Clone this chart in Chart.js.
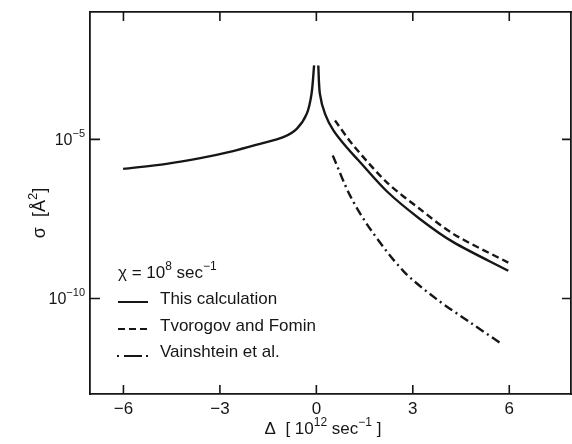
<!DOCTYPE html>
<html>
<head>
<meta charset="utf-8">
<script src="https://cdn.jsdelivr.net/npm/chart.js@4.4.1/dist/chart.umd.min.js"></script>
<style>
  html, body { margin: 0; padding: 0; background: #fff; }
  #wrap { width: 572px; height: 444px; }
</style>
</head>
<body>
<div id="wrap"><canvas id="sigmaChart"></canvas></div>
<script>
// Values (Delta in 10^12 sec^-1, sigma in A^2)
const xTicks = [-6, -3, 0, 3, 6];
const yTicks = [1e-5, 1e-10];

// This calculation, left branch (up to the cusp at 0)
const calcLeftX = [-6.01, -4.66, -3.61, -2.59, -1.75, -1.03, -0.61, -0.30, -0.15, -0.07];
const calcLeftY = [1.18e-6, 1.70e-6, 2.57e-6, 4.27e-6, 7.24e-6, 1.17e-5, 2.14e-5, 6.31e-5, 2.69e-4, 2.09e-3];

// This calculation, right branch
const calcRightX = [0.06, 0.11, 0.27, 0.53, 0.94, 1.30, 2.19, 3.22, 4.26, 5.97];
const calcRightY = [2.09e-3, 2.69e-4, 6.31e-5, 1.91e-5, 5.62e-6, 2.24e-6, 2.34e-7, 3.16e-8, 5.89e-9, 7.41e-10];

// Tvorogov and Fomin
const tvorogovX = [0.58, 1.15, 2.19, 3.22, 4.26, 5.98];
const tvorogovY = [3.89e-5, 6.46e-6, 4.47e-7, 6.46e-8, 1.07e-8, 1.32e-9];

// Vainshtein et al.
const vainshteinX = [0.51, 1.05, 1.67, 2.70, 3.74, 4.78, 5.77];
const vainshteinY = [3.09e-6, 1.70e-7, 1.55e-8, 7.4e-10, 9.55e-11, 1.78e-11, 3.72e-12];

const ink = '#161616';
const font = '"Liberation Sans", Arial, sans-serif';

function pts(xs, ys) {
  return xs.map((x, i) => ({ x: x, y: ys[i] }));
}

function line(data, dash) {
  return {
    data: data,
    borderColor: ink,
    borderWidth: 2.4,
    borderDash: dash,
    pointRadius: 0,
    fill: false,
    tension: 0.3
  };
}

// draws [text, isSuperscript] pieces one after another
function drawPieces(ctx, pieces, x, y, size, align) {
  const supSize = Math.round(size * 0.7);
  const widths = pieces.map(p => {
    ctx.font = (p[1] ? supSize : size) + 'px ' + font;
    return ctx.measureText(p[0]).width;
  });
  const total = widths.reduce((a, b) => a + b, 0);
  let cx = align === 'right' ? x - total : align === 'center' ? x - total / 2 : x;
  ctx.textAlign = 'left';
  ctx.textBaseline = 'middle';
  pieces.forEach((p, i) => {
    ctx.font = (p[1] ? supSize : size) + 'px ' + font;
    ctx.fillText(p[0], cx, p[1] ? y - size * 0.38 : y);
    cx += widths[i];
  });
}

const frameDecor = {
  id: 'frameDecor',
  afterDraw(chart) {
    const { ctx, chartArea: a, scales } = chart;
    ctx.save();
    ctx.strokeStyle = ink;
    ctx.fillStyle = ink;
    ctx.lineWidth = 1.6;

    // inward tick marks on all four sides
    ctx.beginPath();
    xTicks.forEach(v => {
      const px = scales.x.getPixelForValue(v);
      ctx.moveTo(px, a.bottom); ctx.lineTo(px, a.bottom - 9);
      ctx.moveTo(px, a.top); ctx.lineTo(px, a.top + 9);
    });
    yTicks.forEach(v => {
      const py = scales.y.getPixelForValue(v);
      ctx.moveTo(a.left, py); ctx.lineTo(a.left + 10, py);
      ctx.moveTo(a.right, py); ctx.lineTo(a.right - 9, py);
    });
    ctx.stroke();

    // y tick labels with exponents
    yTicks.forEach(v => {
      const py = scales.y.getPixelForValue(v);
      const e = Math.round(Math.log10(v));
      drawPieces(ctx, [['10', false], ['\u2212' + (-e), true]], a.left - 5, py + 1, 16, 'right');
    });

    // y axis title, rotated
    ctx.save();
    ctx.translate(40, 213);
    ctx.rotate(-Math.PI / 2);
    drawPieces(ctx, [['\u03c3  [\u00c5', false], ['2', true], [']', false]], 0, 0, 18, 'center');
    ctx.restore();

    // x axis title
    drawPieces(ctx, [['\u0394  [ 10', false], ['12', true], [' sec', false], ['\u22121', true], [' ]', false]],
      323, 429, 17, 'center');

    // legend block
    drawPieces(ctx, [['\u03c7 = 10', false], ['8', true], [' sec', false], ['\u22121', true]], 118, 273, 17, 'left');
    const rows = [
      { y: 299, label: 'This calculation' },
      { y: 326, label: 'Tvorogov and Fomin' },
      { y: 352, label: 'Vainshtein et al.' }
    ];
    ctx.lineWidth = 2;
    // solid sample
    ctx.setLineDash([]);
    ctx.beginPath(); ctx.moveTo(118, rows[0].y + 3); ctx.lineTo(148, rows[0].y + 3); ctx.stroke();
    // dashed sample
    ctx.setLineDash([7, 4]);
    ctx.beginPath(); ctx.moveTo(118, rows[1].y + 3); ctx.lineTo(148, rows[1].y + 3); ctx.stroke();
    // dot - dash - dot sample
    ctx.setLineDash([]);
    ctx.beginPath();
    ctx.moveTo(117, rows[2].y + 4); ctx.lineTo(119, rows[2].y + 4);
    ctx.moveTo(124, rows[2].y + 4); ctx.lineTo(142, rows[2].y + 4);
    ctx.moveTo(146, rows[2].y + 4); ctx.lineTo(148, rows[2].y + 4);
    ctx.stroke();
    rows.forEach(r => drawPieces(ctx, [[r.label, false]], 160, r.y, 17, 'left'));

    ctx.restore();
  }
};

function fixTicks(list) {
  return scale => { scale.ticks = list.map(v => ({ value: v })); };
}

const axisBorder = { display: true, color: ink, width: 1.8 };
const noGrid = { display: false, drawTicks: false };

new Chart(document.getElementById('sigmaChart'), {
  type: 'line',
  data: {
    datasets: [
      line(pts(calcLeftX, calcLeftY), []),
      line(pts(calcRightX, calcRightY), []),
      line(pts(tvorogovX, tvorogovY), [7, 4]),
      line(pts(vainshteinX, vainshteinY), [9, 4, 2, 4])
    ]
  },
  options: {
    responsive: true,
    maintainAspectRatio: false,
    devicePixelRatio: 1,
    animation: false,
    layout: { padding: 0 },
    plugins: { legend: { display: false }, tooltip: { enabled: false } },
    scales: {
      x: {
        type: 'linear', position: 'bottom', min: -7.04, max: 7.92,
        grid: noGrid, border: axisBorder,
        afterBuildTicks: fixTicks(xTicks),
        afterFit: s => { s.height = 50; },
        ticks: {
          color: ink, padding: 5,
          font: { family: font, size: 17 },
          callback: v => v < 0 ? '\u2212' + (-v) : String(v)
        }
      },
      xTop: {
        type: 'linear', position: 'top', min: -7.04, max: 7.92,
        grid: noGrid, border: axisBorder,
        afterBuildTicks: fixTicks(xTicks),
        afterFit: s => { s.height = 12; },
        ticks: { display: false }
      },
      y: {
        type: 'logarithmic', position: 'left', min: 1e-13, max: 1e-1,
        grid: noGrid, border: axisBorder,
        afterBuildTicks: fixTicks(yTicks),
        afterFit: s => { s.width = 90; },
        ticks: { display: false }
      },
      yRight: {
        type: 'logarithmic', position: 'right', min: 1e-13, max: 1e-1,
        grid: noGrid, border: axisBorder,
        afterBuildTicks: fixTicks(yTicks),
        afterFit: s => { s.width = 1; },
        ticks: { display: false }
      }
    }
  },
  plugins: [frameDecor]
});
</script>
</body>
</html>
